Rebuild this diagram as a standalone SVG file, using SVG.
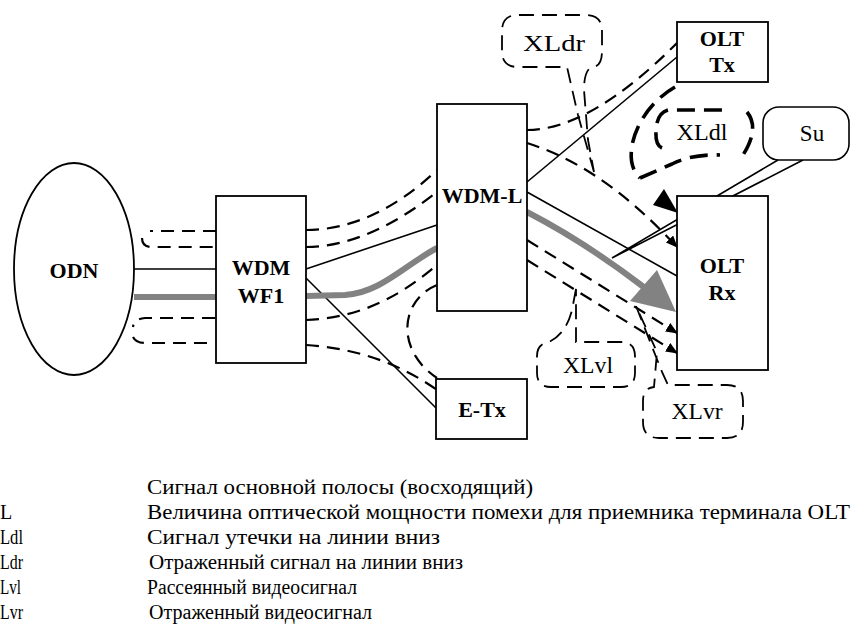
<svg xmlns="http://www.w3.org/2000/svg" width="851" height="635" viewBox="0 0 851 635">
<defs>
<marker id="ah" viewBox="0 0 12 10" refX="11" refY="5" markerWidth="12" markerHeight="10" markerUnits="userSpaceOnUse" orient="auto">
<path d="M0,0 L12,5 L0,10 Z" fill="#000"/>
</marker>
</defs>
<style>
.box{fill:#fff;stroke:#000;stroke-width:1.8}
.lbl{font-family:"Liberation Serif",serif;font-weight:bold;font-size:22px;text-anchor:middle;fill:#000}
.cl{font-family:"Liberation Serif",serif;font-size:23px;text-anchor:middle;fill:#000}
.ln{fill:none;stroke:#000;stroke-width:1.6}
.ds{fill:none;stroke:#000;stroke-width:2.2;stroke-dasharray:13 8}
.dc{fill:none;stroke:#000;stroke-width:1.8;stroke-dasharray:15 8}
.dk{fill:none;stroke:#000;stroke-width:3.6;stroke-dasharray:18 9}
.sig{fill:none;stroke:#828282;stroke-width:6}
.leg{font-family:"Liberation Serif",serif;font-size:20px;fill:#000}
</style>

<g id="connectors">
<path class="ln" d="M134,269 L216,269"/>
<path class="ln" d="M306,269 L437,225"/>
<path class="ln" d="M306,278 L436,408"/>
<path class="ln" d="M527,182 L677,57"/>
<path class="ln" d="M527,192 L677,276"/>
<path class="sig" d="M134,297 L216,297"/>
<path class="sig" d="M306,296 L345,295 C380,293 405,265 437,248"/>
<path class="sig" d="M527,212 Q585,242 645,288"/>
<polygon points="657,270 630,301 676,312" fill="#828282"/>
<path class="ds" d="M216,231 L150,231"/>
<path class="ds" d="M142,238 Q142,247 152,247 L216,247"/>
<path class="ds" d="M215,318 L145,318 Q134,319 133,327"/>
<path class="ds" d="M133,337 Q136,343 145,343 L215,343"/>
<path class="ds" d="M306,230 C350,230 395,210 437,170"/>
<path class="ds" d="M306,247 C350,247 395,225 437,192"/>
<path class="ds" d="M306,320 C350,318 390,305 437,265"/>
<path class="ds" d="M437,285 C400,300 395,350 437,378"/>
<path class="ds" d="M306,345 C350,348 395,360 437,390"/>
<path class="ds" d="M527,130 Q590,130 677,43"/>
<path class="ds" d="M527,143 C565,155 615,180 677,247" marker-end="url(#ah)"/>
<path class="ds" d="M527,240 L677,333" marker-end="url(#ah)"/>
<path class="ds" d="M527,260 L677,353" marker-end="url(#ah)"/>
<path class="dk" d="M675,87 C635,110 620,160 640,178"/>
<polygon points="653,205 664,189 678,213" fill="#000"/>
</g>

<g id="su">
<path class="ln" d="M778,160 L612,258 L803,160"/>
<rect x="763" y="107" width="86" height="53" rx="16" fill="#fff" stroke="#000" stroke-width="1.6"/>
<text class="cl" x="812" y="141" font-size="20">Su</text>
</g>

<g id="odn">
<ellipse cx="74" cy="269" rx="60" ry="106" class="box"/>
<text class="lbl" x="74" y="278">ODN</text>
</g>
<g id="wdm-wf1">
<rect x="216" y="196" width="90" height="167" class="box"/>
<text class="lbl" x="261" y="275">WDM</text>
<text class="lbl" x="261" y="303">WF1</text>
</g>
<g id="wdm-l">
<rect x="437" y="104" width="90" height="207" class="box"/>
<text class="lbl" x="482" y="203" font-size="23">WDM-L</text>
</g>
<g id="olt-tx">
<rect x="677" y="22" width="91" height="60" class="box"/>
<text class="lbl" x="722" y="46">OLT</text>
<text class="lbl" x="722" y="72">Tx</text>
</g>
<g id="olt-rx">
<rect x="677" y="196" width="91" height="174" class="box" stroke-width="2.6"/>
<text class="lbl" x="722" y="273">OLT</text>
<text class="lbl" x="722" y="300">Rx</text>
</g>
<g id="e-tx">
<rect x="436" y="379" width="91" height="60" class="box"/>
<text class="lbl" x="482" y="417">E-Tx</text>
</g>

<g id="xldr">
<path class="dc" d="M594,172 L578,115 L567,67 L518,67 Q502,67 502,51 L502,31 Q502,15 518,15 L586,15 Q602,15 602,31 L602,51 Q602,67 592,67 Q584,70 584,90 L588,140 Z"/>
<text class="cl" x="554" y="51" textLength="62" lengthAdjust="spacingAndGlyphs">XLdr</text>
</g>
<g id="xldl">
<path class="dk" d="M662,148 Q655,145 656,130 Q657,113 668,110 L722,110"/>
<path class="dk" d="M747,112 Q760,128 743,155"/>
<path class="dk" d="M640,178 L672,164 Q692,154 720,155"/>
<text class="cl" x="702" y="140" textLength="51" lengthAdjust="spacingAndGlyphs">XLdl</text>
</g>
<g id="xlvl">
<path class="dc" d="M576,289 L572,310 Q566,334 549,342 Q537,344 537,356 L537,373 Q537,387 551,387 L621,387 Q635,387 635,373 L635,356 Q635,342 621,342 L576,342 Z"/>
<text class="cl" x="588" y="373" textLength="50" lengthAdjust="spacingAndGlyphs">XLvl</text>
</g>
<g id="xlvr">
<path class="dc" d="M636,306 L662,372 L668,385 L727,385 Q743,385 743,401 L743,422 Q743,438 727,438 L659,438 Q643,438 643,422 L643,401 Q643,388 654,387 L657,352 Z"/>
<text class="cl" x="697" y="419" textLength="51" lengthAdjust="spacingAndGlyphs">XLvr</text>
</g>

<g id="legend">
<text class="leg" x="147" y="494" textLength="386" lengthAdjust="spacingAndGlyphs">Сигнал основной полосы (восходящий)</text>
<text class="leg" x="0" y="519">L</text>
<text class="leg" x="147" y="519" textLength="703" lengthAdjust="spacingAndGlyphs">Величина оптической мощности помехи для приемника терминала OLT</text>
<text class="leg" x="0" y="544" textLength="23" lengthAdjust="spacingAndGlyphs">Ldl</text>
<text class="leg" x="147" y="544" textLength="293" lengthAdjust="spacingAndGlyphs">Сигнал утечки на линии вниз</text>
<text class="leg" x="0" y="569" textLength="23" lengthAdjust="spacingAndGlyphs">Ldr</text>
<text class="leg" x="149" y="569" textLength="314" lengthAdjust="spacingAndGlyphs">Отраженный сигнал на линии вниз</text>
<text class="leg" x="0" y="594" textLength="21" lengthAdjust="spacingAndGlyphs">Lvl</text>
<text class="leg" x="147" y="594" textLength="210" lengthAdjust="spacingAndGlyphs">Рассеянный видеосигнал</text>
<text class="leg" x="0" y="619" textLength="23" lengthAdjust="spacingAndGlyphs">Lvr</text>
<text class="leg" x="149" y="619" textLength="223" lengthAdjust="spacingAndGlyphs">Отраженный видеосигнал</text>
</g>
</svg>
